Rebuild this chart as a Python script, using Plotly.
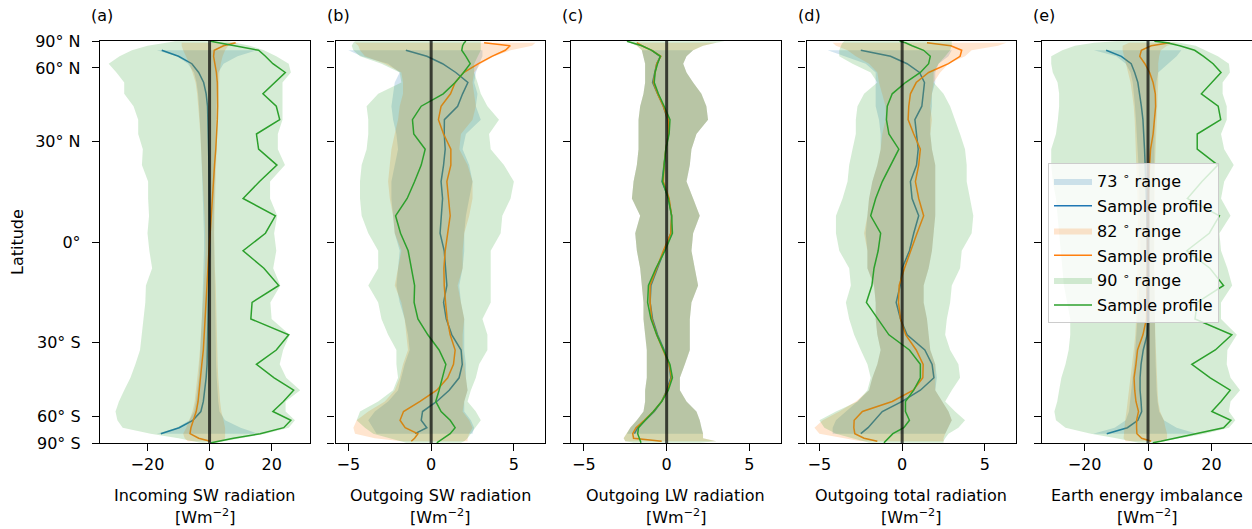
import numpy as np
import plotly.graph_objects as go

# ---------------- data ----------------
LAT_90 = [87.5, 82.5, 77.5, 72.5, 67.5, 62.5, 57.5, 52.5, 47.5, 42.5, 37.5, 32.5,
          27.5, 22.5, 17.5, 12.5, 7.5, 2.5, -2.5, -7.5, -12.5, -17.5, -22.5, -27.5,
          -32.5, -37.5, -42.5, -47.5, -52.5, -57.5, -62.5, -67.5, -72.5, -77.5, -82.5, -87.5]
LAT_82 = LAT_90[1:35]
LAT_73 = LAT_90[3:33]

LAT_TICKS = [90, 60, 30, 0, -30, -60, -90]
LAT_TICKTEXT = ["90° N", "60° N", "30° N", "0°", "30° S", "60° S", "90° S"]

PANEL_LABELS = ["(a)", "(b)", "(c)", "(d)", "(e)"]
PANEL_TITLES = ["Incoming SW radiation", "Outgoing SW radiation", "Outgoing LW radiation",
                "Outgoing total radiation", "Earth energy imbalance"]
UNIT_LABEL = "[Wm<sup>−2</sup>]"
SERIES_NAMES = ["73 <sup>∘</sup> range", "82 <sup>∘</sup> range", "90 <sup>∘</sup> range"]
PROFILE_NAME = "Sample profile"

# (a) incoming SW
A_B_LINE = [-15.4, -10.0, -5.7, -3.5, -1.9, -1.1, -0.65, -0.5, -0.35, -0.25, -0.2, -0.15, -0.1, -0.05, 0.0,
            0.0, -0.2, -0.3, -0.4, -0.5, -0.6, -0.7, -0.8, -1.1, -1.5, -2.0, -2.8, -5.4, -9.8, -15.7]
A_B_MIN = [-17, -10.5, -7, -5, -4.2, -3.7, -3.4, -3.1, -2.9, -2.7, -2.5, -2.3, -2.1, -1.9, -1.8,
           -1.8, -1.9, -2.1, -2.3, -2.5, -2.7, -2.9, -3.2, -3.5, -3.9, -4.4, -5.0, -6.5, -10.5, -17]
A_B_MAX = [15.3, 9, 4.5, 2.8, 2.3, 2.1, 2.0, 1.9, 1.8, 1.7, 1.6, 1.5, 1.5, 1.4, 1.4,
           1.4, 1.5, 1.6, 1.7, 1.8, 1.9, 2.0, 2.1, 2.3, 2.5, 2.8, 3.2, 5.0, 10.0, 15.5]
A_O_LINE = [8.4, 4.5, 1.5, 1.3, 1.7, 2.2, 2.5, 2.6, 2.6, 2.5, 2.3, 2.0, 1.6, 1.3, 0.9, 0.5, 0.2,
            -0.2, -0.5, -0.8, -1.1, -1.4, -1.7, -2.0, -2.5, -2.9, -3.3, -3.7, -4.3, -5.2, -6.0, -6.3, -3.5, 0.2]
A_O_MIN = [-9, -9, -8.5, -7.5, -6.5, -5.5, -4.5, -4.0, -3.6, -3.3, -3.0, -2.7, -2.4, -2.1, -1.8, -1.6, -1.4,
           -1.3, -1.5, -1.8, -2.2, -2.5, -2.8, -3.1, -3.5, -3.9, -4.3, -4.8, -5.5, -6.5, -7.5, -8.5, -8.0, -7.0]
A_O_MAX = [9.5, 6, 5, 4.2, 3.6, 3.2, 3.0, 2.9, 2.8, 2.7, 2.5, 2.3, 2.1, 1.9, 1.7, 1.6, 1.5,
           1.5, 1.7, 2.0, 2.2, 2.3, 2.4, 2.5, 2.6, 2.8, 3.0, 3.4, 3.8, 4.5, 5.0, 5.0, 5.0, 4.0]
A_G_LINE = [0.3, 3.0, 8.0, 15.8, 18.0, 20.4, 24.4, 21.0, 17.2, 21.5, 22.6, 15.1, 15.8, 21.7, 16.1, 10.8, 21.2, 18.0,
            10.8, 17.5, 22.3, 13.7, 13.3, 25.5, 21.5, 15.1, 20.8, 27.1, 23.8, 20.4, 26.2, 23.9, 16.3, 7.7, 3.4, 0.5]
A_G_MIN = [-11, -14, -20, -25, -29, -32.5, -30, -27.5, -27.5, -24.5, -23, -23, -21.5, -21.8, -19.8, -19.8, -19.5, -20,
           -19.4, -18.5, -20.5, -20.7, -21.3, -21.8, -22.4, -23.9, -25.5, -27.5, -29.2, -30.3, -29.7, -28, -19, -10, -6, -3]
A_G_MAX = [6, 9, 13, 17.5, 21.5, 25.5, 26.2, 23.5, 23.5, 23.5, 23.5, 22, 22, 24.3, 19.5, 19.5, 21.8, 20.8,
           21.5, 20.5, 22.8, 19.6, 20, 25.8, 23.7, 22.6, 24.7, 29.2, 24.5, 24.5, 27.5, 25.5, 18, 10, 5, 2]

# (b) outgoing SW
B_B_LINE = [-1.53, -0.26, 0.69, 1.49, 2.22, 1.9, 1.6, 0.8, 0.79, 0.85, 0.75, 0.6, 0.69, 0.6, 0.54,
            0.79, 0.89, 0.95, 0.75, 0.91, 1.25, 1.81, 1.88, 1.69, 1.09, 0.34, -0.52, -0.6, -0.26, -0.97]
B_B_MIN = [-5.0, -4.2, -2.6, -1.9, -2.2, -2.3, -2.4, -2.3, -2.1, -2.0, -2.2, -2.4, -2.4, -2.3, -2.2,
           -1.9, -2.0, -2.1, -1.9, -1.6, -1.4, -1.3, -1.6, -1.8, -2.0, -2.6, -3.4, -3.8, -3.5, -3.3]
B_B_MAX = [3.1, 3.1, 2.9, 2.7, 2.6, 2.8, 2.7, 3.0, 2.1, 1.9, 2.3, 2.5, 2.3, 2.1, 2.0,
           2.0, 1.9, 1.7, 1.8, 2.0, 2.0, 2.0, 2.1, 2.1, 2.2, 2.0, 2.0, 2.4, 2.6, 2.5]
B_O_LINE = [3.2, 4.78, 4.48, 3.67, 2.86, 1.96, 1.45, 1.17, 0.6, 0.44, 0.75, 1.19, 1.19, 0.95, 1.05, 1.15, 1.0,
            0.85, 0.77, 0.79, 0.87, 0.97, 1.15, 1.45, 1.35, 1.0, 0.34, -0.67, -1.67, -1.88, -1.57, -0.8, -1.0, -1.2]
B_O_MIN = [-4.6, -4.4, -4.3, -4.0, -2.8, -1.8, -1.7, -1.7, -1.9, -2.0, -2.2, -2.4, -2.5, -2.6, -2.5, -2.3, -2.2,
           -1.8, -2.0, -2.2, -1.8, -1.6, -1.5, -1.4, -1.7, -1.9, -2.2, -2.8, -3.8, -4.5, -4.7, -4.6, -3.4, -1.8]
B_O_MAX = [6.3, 6.1, 4.8, 3.8, 3.0, 2.6, 2.5, 2.6, 2.7, 2.5, 1.8, 1.7, 2.2, 2.5, 2.5, 2.3, 2.0,
           1.9, 1.9, 1.6, 1.8, 2.0, 1.9, 1.9, 2.0, 2.1, 2.2, 2.0, 1.9, 2.3, 2.5, 2.3, 2.2, 2.2]
B_G_LINE = [2.1, 2.0, 1.9, 1.85, 2.1, 2.36, 1.96, 1.45, 0.73, -0.6, -1.13, -1.05, -0.36, -0.6, -1.0, -1.45, -2.15, -1.85,
            -1.39, -1.19, -1.0, -1.03, -0.8, -0.2, 0.48, 0.89, 0.69, 0.48, 0.28, 0.6, 1.15, 1.45, 1.15, 0.75, 0.48, 0.34]
B_G_MIN = [-4.6, -4.7, -4.8, -4.7, -4.3, -3.0, -1.9, -1.8, -3.2, -3.9, -3.8, -3.8, -3.9, -4.2, -4.3, -4.3, -4.2, -3.8,
           -3.2, -3.2, -3.8, -3.2, -3.0, -2.6, -2.1, -2.1, -2.0, -2.3, -3.2, -4.3, -4.5, -4.0, -3.5, -2.5, -2.0, -1.5]
B_G_MAX = [3.0, 3.0, 3.0, 3.0, 2.8, 2.6, 2.6, 2.8, 3.0, 3.4, 4.1, 3.5, 3.6, 4.4, 5.0, 4.8, 4.3, 4.2,
           3.6, 3.6, 3.6, 3.6, 3.1, 3.4, 3.4, 2.9, 2.7, 2.4, 2.2, 2.7, 3.0, 2.7, 2.4, 2.2, 2.0, 1.8]

# (c) outgoing LW (the three ranges nearly coincide)
C_B_LINE = [-0.9, -0.38, -0.6, -0.7, -0.85, -0.55, -0.2, 0.05, 0.1, -0.05, -0.18, -0.28, 0.12, 0.3, 0.25,
            -0.15, -0.55, -0.95, -1.0, -0.85, -0.55, -0.15, 0.15, 0.25, 0.0, -0.3, -0.75, -1.3, -1.75, -1.95]
C_O_LINE = [-1.8, -1.5, -0.9, -0.35, -0.6, -0.7, -0.8, -0.55, -0.2, 0.1, 0.1, -0.05, -0.15, -0.2, 0.15, 0.3, 0.25,
            -0.2, -0.6, -1.0, -1.0, -0.9, -0.6, -0.2, 0.15, 0.3, 0.05, -0.3, -0.8, -1.35, -1.85, -2.05, -2.0, -0.3]
C_G_LINE = [-2.4, -2.1, -1.5, -0.9, -0.38, -0.55, -0.7, -0.75, -0.5, -0.15, 0.2, 0.15, -0.05, -0.15, -0.25, 0.1, 0.3, 0.35,
            -0.1, -0.65, -1.1, -1.15, -0.95, -0.6, -0.2, 0.2, 0.35, 0.1, -0.3, -0.8, -1.3, -1.7, -1.75, -1.65, -1.6, -1.55]
C_MIN = [-2.4, -2.2, -1.8, -1.5, -1.4, -1.3, -1.3, -1.3, -1.4, -1.6, -1.7, -1.7, -1.7, -1.8, -2.0, -2.1, -1.6, -1.9,
         -1.8, -1.6, -1.5, -1.4, -1.4, -1.3, -1.2, -1.2, -1.2, -1.3, -1.3, -1.4, -1.8, -2.2, -2.4, -2.6, -2.5, -2.0]
C_MAX = [3.5, 3.0, 2.2, 1.6, 1.2, 1.0, 1.2, 1.6, 2.1, 2.4, 2.5, 1.8, 1.5, 1.4, 1.2, 1.6, 2.0, 1.6,
         1.5, 1.7, 1.9, 1.5, 1.4, 1.4, 1.4, 1.1, 0.8, 0.8, 1.2, 1.8, 2.0, 2.1, 2.2, 2.2, 3.0, 2.0]

# (d) outgoing total
D_B_LINE = [-2.5, -0.7, 0.3, 1.05, 1.35, 1.27, 1.19, 0.77, 0.85, 0.97, 0.87, 0.5, 0.6, 1.0, 0.7,
            0.44, 0.0, -0.12, -0.36, -0.1, 0.3, 1.37, 1.81, 1.92, 1.1, 0.0, -1.2, -1.7, -2.06, -2.5]
D_B_MIN = [-4.5, -3.5, -2.2, -1.6, -1.6, -1.6, -1.6, -1.4, -1.3, -1.3, -1.5, -1.8, -2.0, -2.1, -2.2,
           -2.1, -2.1, -1.7, -1.6, -1.6, -1.5, -1.3, -1.5, -1.8, -2.0, -2.7, -3.4, -4.0, -4.2, -4.2]
D_B_MAX = [3.0, 2.8, 2.2, 2.0, 2.0, 1.8, 1.8, 1.7, 1.7, 1.8, 2.0, 2.0, 2.0, 2.0, 1.9,
           1.8, 1.6, 1.3, 1.3, 1.5, 1.6, 1.7, 2.0, 2.1, 2.0, 2.4, 2.8, 3.0, 2.8, 2.6]
D_O_LINE = [1.5, 2.94, 3.6, 3.5, 2.8, 1.6, 0.85, 0.5, 0.4, 0.36, 0.7, 1.1, 1.0, 0.8, 1.0, 1.3, 0.9,
            0.5, 0.14, -0.18, -0.22, -0.1, 0.22, 0.85, 1.27, 1.25, 0.67, -0.6, -2.4, -2.9, -2.92, -2.86, -2.3, -1.5]
D_O_MIN = [-4.2, -4.0, -3.3, -2.8, -2.0, -1.5, -1.4, -1.2, -1.0, -1.0, -1.2, -1.3, -1.5, -1.8, -2.0, -2.1, -2.3,
           -2.1, -2.1, -1.7, -1.6, -1.6, -1.5, -1.3, -1.5, -1.8, -2.0, -2.8, -3.8, -4.8, -5.3, -5.0, -3.5, -2.5]
D_O_MAX = [6.3, 5.8, 4.2, 3.8, 2.8, 2.3, 1.9, 1.8, 1.7, 1.8, 1.7, 1.8, 2.0, 2.0, 2.0, 2.0, 1.9,
           1.8, 1.6, 1.3, 1.3, 1.5, 1.6, 1.7, 2.0, 2.0, 2.0, 2.4, 2.8, 3.0, 2.8, 2.6, 2.5, 2.5]
D_G_LINE = [-0.15, 0.2, 0.6, 1.3, 1.7, 1.6, 1.1, 0.2, -0.6, -0.9, -0.95, -0.8, -0.2, -0.7, -1.2, -1.6, -1.9, -1.3,
            -1.45, -1.7, -1.83, -2.16, -1.45, -0.8, 0.44, 1.1, 1.1, 0.7, 0.2, 0.2, 0.44, 0.1, -0.56, -0.85, -1.0, -1.1]
D_G_MIN = [-3.5, -3.6, -3.7, -3.8, -3.8, -3.0, -1.9, -1.5, -2.3, -2.7, -2.8, -2.8, -3.0, -3.2, -3.3, -3.6, -4.0, -4.0,
           -3.8, -3.2, -3.1, -3.4, -3.2, -2.9, -2.5, -2.1, -1.9, -2.1, -2.7, -4.0, -5.0, -4.7, -4.0, -3.0, -2.5, -2.0]
D_G_MAX = [3.0, 3.0, 3.0, 2.9, 2.6, 2.2, 1.9, 1.9, 2.5, 2.9, 3.2, 3.5, 3.8, 3.9, 3.9, 4.1, 4.3, 4.2,
           3.6, 3.5, 3.0, 2.9, 2.7, 2.6, 2.9, 3.4, 3.5, 3.0, 2.6, 3.2, 3.8, 3.4, 2.8, 2.6, 2.5, 2.5]

# (e) Earth energy imbalance
E_B_LINE = [-13.2, -8.4, -5.3, -4.2, -3.2, -2.6, -2.1, -1.6, -1.3, -1.1, -0.9, -0.7, -0.5, -0.3, -0.2,
            -0.1, 0.0, 0.0, 0.0, 0.0, -0.3, -1.5, -2.2, -2.5, -2.5, -2.2, -2.0, -3.2, -6.5, -13.0]
E_B_MIN = [-17, -10, -7, -5.5, -4.8, -4.4, -4.1, -3.8, -3.5, -3.2, -3.0, -2.8, -2.6, -2.5, -2.4,
           -2.4, -2.5, -2.7, -3.0, -3.3, -3.6, -4.0, -4.4, -4.8, -5.2, -5.6, -6.0, -7.0, -10.5, -17.3]
E_B_MAX = [10.5, 9.0, 6.3, 3.2, 2.6, 2.4, 2.3, 2.2, 2.1, 2.0, 1.9, 1.8, 1.8, 1.8, 1.8,
           1.8, 1.9, 2.0, 2.0, 2.1, 2.2, 2.3, 2.4, 2.5, 2.7, 3.0, 3.5, 5.0, 9.0, 15.4]
E_O_LINE = [6.8, 1.0, -2.1, -2.6, -1.0, 0.5, 1.6, 2.3, 2.4, 2.1, 1.6, 0.8, 0.4, 0.2, 0.1, 0.0, -0.1,
            -0.2, -0.3, -0.3, -0.4, -0.5, -1.6, -3.3, -3.8, -4.4, -4.2, -3.8, -3.0, -3.6, -3.6, -3.5, -2.0, 1.0]
E_O_MIN = [-6, -8, -8, -7.5, -7, -6.2, -5.5, -5, -4.5, -4.2, -4, -3.8, -3.6, -3.4, -3.3, -3.2, -3.2,
           -3.2, -3.3, -3.4, -3.5, -3.7, -4.0, -4.5, -5.0, -5.5, -6.0, -6.5, -6.8, -7.2, -7.5, -7.7, -7.7, -7.0]
E_O_MAX = [9.5, 6, 4, 3.5, 3.2, 3.2, 3.2, 3.0, 3.0, 2.8, 2.6, 2.4, 2.2, 2.1, 2.0, 2.0, 2.0,
           2.0, 2.0, 2.1, 2.1, 2.2, 2.3, 2.5, 2.6, 2.8, 3.0, 3.2, 3.8, 5.0, 5.5, 6.0, 6.0, 5.5]
E_G_LINE = [2, 6, 10, 14.7, 17.5, 20.5, 23, 20.0, 16.8, 22.1, 22.9, 15.5, 15.5, 22, 17, 12.4, 22.5, 19.3,
            12.2, 19.5, 23.8, 15.5, 14.8, 26.4, 21.2, 13.8, 19.6, 25.9, 23.0, 20.1, 26.1, 23.8, 15.4, 8, 4, 1.5]
E_G_MIN = [-10, -17, -23, -27, -30.5, -30.5, -30, -28.5, -28, -28, -28.4, -29, -30.5, -30.5, -30, -29, -28.5, -28,
           -27.5, -27, -26.5, -25.5, -24.5, -24.5, -25, -26, -27.3, -28, -28.6, -29.5, -29, -26, -18, -10, -6, -3]
E_G_MAX = [5, 10, 15, 18, 22, 25.5, 25.8, 23.5, 23.5, 24.8, 24.8, 23, 24, 27, 24, 23, 26, 22.5,
           23, 25, 26.5, 23, 23, 28, 25, 24.8, 26, 29, 26, 25.5, 27.5, 25.5, 18, 10, 5, 2]

X_RANGES = [[-35.3, 32.2], [-5.78, 6.88], [-5.78, 6.88], [-5.78, 6.88], [-33.4, 32.6]]
X_TICKS = [[-20, 0, 20], [-5, 0, 5], [-5, 0, 5], [-5, 0, 5], [-20, 0, 20]]

PANELS = [
    [(A_B_MIN, A_B_MAX, A_B_LINE), (A_O_MIN, A_O_MAX, A_O_LINE), (A_G_MIN, A_G_MAX, A_G_LINE)],
    [(B_B_MIN, B_B_MAX, B_B_LINE), (B_O_MIN, B_O_MAX, B_O_LINE), (B_G_MIN, B_G_MAX, B_G_LINE)],
    [(C_MIN[3:33], C_MAX[3:33], C_B_LINE), (C_MIN[1:35], C_MAX[1:35], C_O_LINE), (C_MIN, C_MAX, C_G_LINE)],
    [(D_B_MIN, D_B_MAX, D_B_LINE), (D_O_MIN, D_O_MAX, D_O_LINE), (D_G_MIN, D_G_MAX, D_G_LINE)],
    [(E_B_MIN, E_B_MAX, E_B_LINE), (E_O_MIN, E_O_MAX, E_O_LINE), (E_G_MIN, E_G_MAX, E_G_LINE)],
]
SERIES_LATS = [LAT_73, LAT_82, LAT_90]

# ---------------- style ----------------
W, H = 1252, 529
FONT = "DejaVu Sans"
FS = 16
COLORS = ["#1f77b4", "#ff7f0e", "#2ca02c"]
FILLS = ["rgba(31,119,180,0.2)", "rgba(255,127,14,0.2)", "rgba(44,160,44,0.2)"]
LEFTS = [100, 335.5, 571, 806.5, 1042]
PW = 209.5
TOP, BOT = 41, 443


def sinlat(lat):
    return np.sin(np.deg2rad(np.asarray(lat, dtype=float)))


fig = go.Figure()
for p, series in enumerate(PANELS):
    xa = "x" if p == 0 else f"x{p + 1}"
    ya = "y" if p == 0 else f"y{p + 1}"
    for k, (mn, mx, ln) in enumerate(series):
        lat = SERIES_LATS[k]
        assert len(mn) == len(mx) == len(ln) == len(lat), (p, k, len(mn), len(mx), len(ln), len(lat))
        s = list(sinlat(lat))
        fig.add_trace(go.Scatter(
            x=list(mn) + list(mx)[::-1], y=s + s[::-1], xaxis=xa, yaxis=ya,
            mode="lines", fill="toself", fillcolor=FILLS[k], line=dict(width=0, color=FILLS[k]),
            name=SERIES_NAMES[k], legendgroup=f"g{2 * k}", showlegend=(p == 4), hoverinfo="skip"))
        fig.add_trace(go.Scatter(
            x=list(ln), y=s, xaxis=xa, yaxis=ya, mode="lines",
            line=dict(color=COLORS[k], width=1.5), name=PROFILE_NAME,
            legendgroup=f"g{2 * k + 1}", showlegend=(p == 4), hoverinfo="skip"))
    fig.add_trace(go.Scatter(x=[0, 0], y=[-1, 1], xaxis=xa, yaxis=ya, mode="lines",
                             line=dict(color="rgba(0,0,0,0.7)", width=3), showlegend=False,
                             hoverinfo="skip"))

ydom = [1 - BOT / H, 1 - TOP / H]
layout = dict(
    width=W, height=H, template="none",
    margin=dict(l=0, r=0, t=0, b=0, pad=0),
    paper_bgcolor="white", plot_bgcolor="white",
    font=dict(family=FONT, size=FS, color="black"),
    showlegend=True,
    legend=dict(x=1048 / W, y=1 - 163 / H, xanchor="left", yanchor="top",
                bgcolor="rgba(255,255,255,0.8)", bordercolor="#cccccc", borderwidth=1,
                font=dict(family=FONT, size=FS, color="black"), tracegroupgap=1,
                itemwidth=38),
)
annotations = []
for p in range(5):
    sfx = "" if p == 0 else str(p + 1)
    x0, x1 = LEFTS[p] / W, (LEFTS[p] + PW) / W
    layout["xaxis" + sfx] = dict(
        domain=[x0, x1], range=X_RANGES[p], anchor="y" + sfx,
        showline=True, mirror=True, linecolor="black", linewidth=1.4,
        ticks="outside", ticklen=7, tickwidth=1.3, tickcolor="black",
        tickvals=X_TICKS[p], ticktext=[str(v).replace("-", "−") for v in X_TICKS[p]],
        showgrid=False, zeroline=False, automargin=False,
        tickfont=dict(family=FONT, size=FS, color="black"))
    layout["yaxis" + sfx] = dict(
        domain=ydom, range=[-1, 1], anchor="x" + sfx,
        showline=True, mirror=True, linecolor="black", linewidth=1.4,
        ticks="outside", ticklen=7, tickwidth=1.3, tickcolor="black",
        tickvals=list(sinlat(LAT_TICKS)), ticktext=LAT_TICKTEXT,
        showticklabels=(p == 0), ticklabelstandoff=8,
        showgrid=False, zeroline=False, automargin=False,
        tickfont=dict(family=FONT, size=FS, color="black"))
    cx = (LEFTS[p] + PW / 2) / W
    annotations.append(dict(text=PANEL_LABELS[p], x=(LEFTS[p] - 11) / W, y=1 - 15 / H,
                            xref="paper", yref="paper", xanchor="left", yanchor="middle",
                            showarrow=False, font=dict(family=FONT, size=FS, color="black")))
    annotations.append(dict(text=PANEL_TITLES[p], x=cx, y=1 - 495 / H, xref="paper", yref="paper",
                            xanchor="center", yanchor="middle", showarrow=False,
                            font=dict(family=FONT, size=FS, color="black")))
    annotations.append(dict(text=UNIT_LABEL, x=cx, y=1 - 516 / H, xref="paper", yref="paper",
                            xanchor="center", yanchor="middle", showarrow=False,
                            font=dict(family=FONT, size=FS, color="black")))
annotations.append(dict(text="Latitude", x=18 / W, y=1 - 242 / H, xref="paper", yref="paper",
                        xanchor="center", yanchor="middle", textangle=-90, showarrow=False,
                        font=dict(family=FONT, size=FS, color="black")))
layout["annotations"] = annotations
fig.update_layout(**layout)

fig.write_html("out.html")
